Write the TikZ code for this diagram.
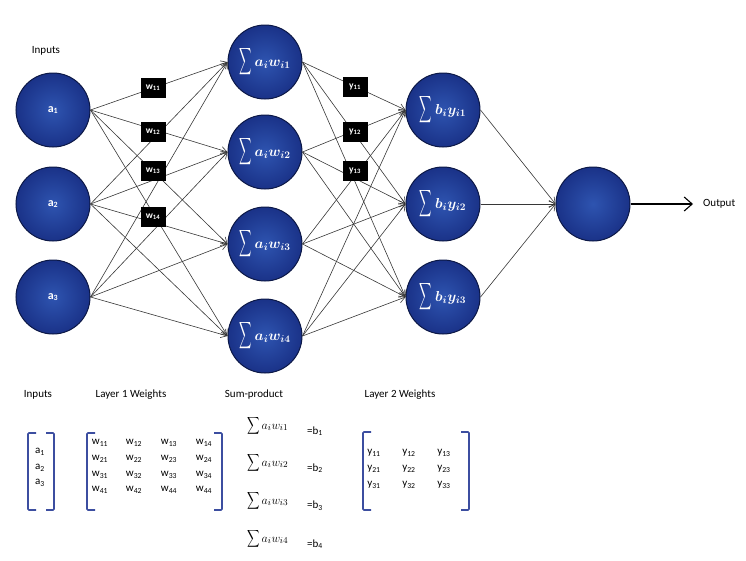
\documentclass[tikz,border=0pt]{standalone}
\usepackage{fontspec}
\usepackage{amsmath}
\usepackage{graphicx}
\setmainfont{Carlito}
\usetikzlibrary{arrows.meta,positioning}
\definecolor{ballin}{RGB}{46,84,176}
\definecolor{ballout}{RGB}{26,50,136}
\definecolor{ballrim}{RGB}{12,24,70}
\definecolor{brk}{RGB}{60,78,160}
\definecolor{edgec}{RGB}{55,55,55}
\newcommand{\bigsum}[2]{\scalebox{#1}[#2]{$\displaystyle\sum$}}
\begin{document}
\begin{tikzpicture}[x=1pt,y=-1pt,
  neuron/.style={circle,minimum size=74pt,inner sep=0pt,draw=ballrim,line width=1pt,
    inner color=ballin,outer color=ballout,text=white,font=\fontsize{14}{16}\selectfont\boldmath},
  wbox/.style={fill=black,minimum width=25pt,minimum height=20pt,inner sep=0pt,
    text=white,font=\bfseries\fontsize{9.5}{10}\selectfont},
  conn/.style={draw=edgec,line width=0.6pt,-{Straight Barb[length=6pt,width=7pt]}},
  lbl/.style={font=\fontsize{11}{13}\selectfont,inner sep=0pt},
  ent/.style={font=\fontsize{11}{13}\selectfont,inner sep=0pt},
  brack/.style={draw=brk,line width=1.6pt,rounded corners=1pt}]
\useasboundingbox (0,0) rectangle (746,560);
% nodes
\node[neuron,font=\bfseries\fontsize{12}{14}\selectfont] (a1) at (53,110) {a\textsubscript{1}};
\node[neuron,font=\bfseries\fontsize{12}{14}\selectfont] (a2) at (53,204) {a\textsubscript{2}};
\node[neuron,font=\bfseries\fontsize{12}{14}\selectfont] (a3) at (53,297) {a\textsubscript{3}};
\node[neuron] (h1) at (265,62) {\bigsum{0.6}{1.3}$\,a_iw_{i1}$};
\node[neuron] (h2) at (265,152) {\bigsum{0.6}{1.3}$\,a_iw_{i2}$};
\node[neuron] (h3) at (265,244) {\bigsum{0.6}{1.3}$\,a_iw_{i3}$};
\node[neuron] (h4) at (265,336) {\bigsum{0.6}{1.3}$\,a_iw_{i4}$};
\node[neuron] (o1) at (443,110) {\bigsum{0.6}{1.3}$\,b_iy_{i1}$};
\node[neuron] (o2) at (443,204) {\bigsum{0.6}{1.3}$\,b_iy_{i2}$};
\node[neuron] (o3) at (443,297) {\bigsum{0.6}{1.3}$\,b_iy_{i3}$};
\node[neuron] (f) at (593,204) {};
\node[lbl] (inlbl) at (46,51) {Inputs};
\node[lbl,anchor=west] (outlbl) at (703,204) {Output};
\coordinate (outend) at (693,204);
% edges
\foreach \i in {1,2,3}{\foreach \j in {1,2,3,4}{\draw[conn] (a\i.east) -- (h\j.west);}}
\foreach \i in {1,2,3,4}{\foreach \j in {1,2,3}{\draw[conn] (h\i.east) -- (o\j.west);}}
\foreach \j in {1,2,3}{\draw[conn] (o\j.east) -- (f.west);}
\draw[draw=black,line width=1.1pt,-{Straight Barb[length=8pt,width=14pt]}] (f.east) -- (outend);
% weight boxes
\node[wbox] (w11) at (153,88) {w\textsubscript{11}};
\node[wbox] (w12) at (153,132) {w\textsubscript{12}};
\node[wbox] (w13) at (153,171) {w\textsubscript{13}};
\node[wbox] (w14) at (153,217) {w\textsubscript{14}};
\node[wbox] (y11) at (355,87) {y\textsubscript{11}};
\node[wbox] (y12) at (355,132) {y\textsubscript{12}};
\node[wbox] (y13) at (355,171) {y\textsubscript{13}};
% bottom headings
\node[lbl] (t1) at (38,395) {Inputs};
\node[lbl] (t2) at (131,395) {Layer 1 Weights};
\node[lbl] (t3) at (254,395) {Sum-product};
\node[lbl] (t4) at (400,395) {Layer 2 Weights};
% brackets
\draw[brack] (36,433) -- (28,433) -- (28,510) -- (36,510);
\draw[brack] (46,433) -- (54,433) -- (54,510) -- (46,510);
\draw[brack] (95,433) -- (87,433) -- (87,510) -- (95,510);
\draw[brack] (214,433) -- (222,433) -- (222,510) -- (214,510);
\draw[brack] (371,432) -- (363,432) -- (363,510) -- (371,510);
\draw[brack] (461,432) -- (469,432) -- (469,510) -- (461,510);
% input entries
\node[ent] (ea1) at (40,452) {a\textsubscript{1}};
\node[ent] (ea2) at (40,468) {a\textsubscript{2}};
\node[ent] (ea3) at (40,483) {a\textsubscript{3}};
% layer 1 entries
\foreach \r/\y in {1/443,2/459,3/475}{
  \foreach \c/\x in {1/100,2/134,3/169,4/204}{
    \node[ent] (w\r\c m) at (\x,\y) {w\textsubscript{\r\c}};}}
\node[ent] (w41m) at (100,490) {w\textsubscript{41}};
\node[ent] (w42m) at (134,490) {w\textsubscript{42}};
\node[ent] (w43m) at (169,490) {w\textsubscript{44}};
\node[ent] (w44m) at (204,490) {w\textsubscript{44}};
% layer 2 entries
\foreach \r/\y in {1/453,2/469,3/485}{
  \foreach \c/\x in {1/374,2/409,3/444}{
    \node[ent] (y\r\c m) at (\x,\y) {y\textsubscript{\r\c}};}}
% sum-product
\foreach \k/\y in {1/426,2/463,3/501,4/539}{
  \node[ent,anchor=west,font=\fontsize{12.5}{14}\selectfont] (s\k) at (247,\y) {\bigsum{0.72}{1.0}$\,a_iw_{i\k}$};
  \node[ent,anchor=west] (b\k) at (307,\y+5) {=b\textsubscript{\k}};}
\end{tikzpicture}
\end{document}
